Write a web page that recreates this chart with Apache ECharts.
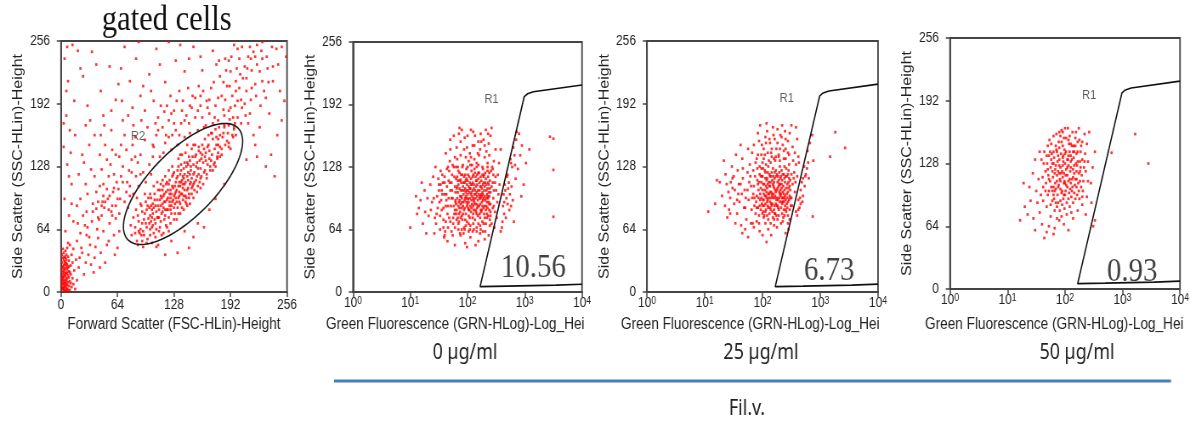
<!DOCTYPE html>
<html><head><meta charset="utf-8">
<script src="https://cdn.jsdelivr.net/npm/echarts@6/dist/echarts.min.js"></script>
<style>
html,body{margin:0;padding:0;background:#fff;overflow:hidden;width:1202px;height:425px;}
#c{width:1414px;height:425px;transform:scaleX(0.85);transform-origin:0 0;}
</style></head><body><div id="c"></div>
<script>
// ---------------- data ----------------
// Panel 1: Forward scatter (x, linear 0-256) vs Side scatter (y, linear 0-256)
const fscSscCells = [
[2,3],[4,1],[3,7],[6,4],[1,12],[5,9],[8,2],[2,18],[7,14],[4,22],[3,27],[9,6],[6,19],[1,5],[10,11],[5,30],[3,15],[8,25],[2,35],[6,8],[4,12],[7,3],[11,18],[1,24],[5,16],[9,21],[3,40],[6,33],[12,5],[2,9],[7,28],[4,5],[10,2],[5,24],[1,30],[8,10],[3,20],[13,14],[6,38],[2,44],[9,32],[4,17],[11,27],[7,45],[14,8],[5,2],[3,11],[1,16],[8,36],[6,13],[15,22],[12,38],[2,26],[10,48],[4,31],[7,20],[16,3],[3,4],[9,15],[5,42],[13,30],[1,38],[6,26],[11,9],[4,36],[2,13],[8,50],[14,44],[18,12],[17,33],
[3,2],[5,6],[2,21],[4,28],[6,11],[7,23],[3,33],[5,19],[1,8],[8,17],[2,4],[6,1],[4,9],[9,26],[3,24],[7,7],[5,35],[2,15],[10,20],[6,29],
[20,25],[24,40],[18,52],[28,30],[33,48],[22,60],[38,35],[30,66],[26,18],[42,55],[35,72],[45,40],[19,70],[48,62],[40,85],[52,48],[29,82],[55,70],[37,20],[60,58],[23,45],[46,78],[58,88],[32,56],[50,30],[27,68],[62,75],[44,25],[36,90],[54,52],[21,35],[64,45],[41,64],[31,38],[57,82],[47,92],[25,78],[66,62],[34,28],[53,95],[39,46],[61,38],[43,74],[29,58],[49,86],
[5,62],[9,78],[4,95],[12,110],[7,130],[3,148],[10,165],[6,180],[15,195],[8,215],[4,238],[13,252],[18,88],[11,142],[20,120],[6,205],[16,160],[22,228],[9,118],[14,72],[3,172],[19,246],[24,140],[12,90],[7,250],
[80,58],[84,66],[86,52],[88,72],[82,76],[89,60],[79,68],[85,84],[87,48],[90,64],
[92,70],[94,58],[95,80],[97,66],[91,88],[99,75],[93,62],[96,92],[98,54],[100,70],[94,74],[97,84],[92,52],[100,86],
[101,78],[103,66],[104,90],[106,74],[102,96],[108,82],[105,60],[107,70],[109,94],[103,84],[110,76],[101,58],[106,100],[108,64],[104,80],[110,88],[102,72],[107,88],
[111,84],[113,72],[114,96],[116,86],[112,104],[118,78],[115,90],[117,100],[119,68],[113,88],[120,94],[111,76],[116,108],[118,92],[114,80],[120,84],[112,94],[117,74],[119,102],[115,82],
[121,96],[123,88],[124,104],[126,92],[122,110],[128,98],[125,80],[127,106],[129,90],[123,100],[130,112],[121,84],[126,118],[128,86],[124,96],[130,102],[122,76],[127,94],[129,108],[125,100],[123,92],
[131,104],[133,96],[134,112],[136,100],[132,118],[138,106],[135,90],[137,114],[139,98],[133,108],[140,120],[131,92],[136,124],[138,110],[134,102],[140,104],[132,86],[137,100],[139,116],[135,108],[133,128],
[141,112],[143,104],[144,122],[146,110],[142,128],[148,116],[145,100],[147,124],[149,108],[143,118],[150,130],[141,98],[146,134],[148,106],[144,114],[150,120],[142,96],[147,112],
[151,122],[153,114],[154,132],[156,120],[152,138],[158,126],[155,108],[157,134],[159,118],[153,128],[160,140],[151,112],[156,144],[158,116],
[161,132],[163,124],[164,142],[166,130],[162,146],[168,136],[165,120],[167,150],[169,128],[163,138],
[171,140],[174,132],[176,150],[178,142],[172,156],[180,148],[175,128],[183,158],[177,136],[182,146],
[186,150],[189,162],[192,146],[195,158],[190,170],[198,160],
[87,78],[90,90],[93,46],[95,100],[88,62],[97,50],[99,96],[91,58],[96,70],[84,60],[92,82],[98,88],
[101,100],[103,50],[105,108],[107,56],[109,112],[111,62],[113,110],[102,88],[104,68],[106,94],[108,46],[110,104],[112,66],[114,58],[115,114],[101,64],[105,86],[109,76],[113,98],[103,76],
[116,60],[118,118],[120,66],[122,124],[124,70],[126,128],[128,74],[116,98],[119,110],[121,104],[123,114],[125,88],[127,120],[129,80],[117,92],[130,96],[118,84],[122,62],[126,108],[128,122],[124,84],[120,112],[129,100],[115,104],
[131,74],[133,136],[135,80],[137,140],[139,84],[141,142],[143,88],[145,138],[132,124],[134,92],[136,130],[138,94],[140,132],[142,90],[144,130],[131,116],[133,80],[135,120],[137,86],[139,126],[141,92],[143,132],[145,96],[136,112],[140,110],[134,98],[138,118],[144,106],
[146,90],[148,146],[150,96],[152,150],[154,102],[156,148],[158,106],[160,150],[147,128],[149,138],[151,104],[153,140],[155,126],[157,112],[159,136],[146,120],[150,110],[154,118],[158,142],[148,100],
[161,110],[163,156],[165,116],[167,160],[169,124],[171,162],[173,130],[175,166],[177,138],[179,168],[162,122],[166,148],[170,134],[174,146],[178,156],[164,134],[168,144],[172,124],[176,158],[180,138],
[182,140],[185,170],[188,154],[191,176],[194,160],[197,172],[184,162],[190,148],[196,166],[200,178],
[110,48],[125,52],[140,62],[155,70],[168,84],[150,56],[132,40],[175,95],[118,38],[162,66],[185,110],[145,45],
[42,92],[48,110],[55,98],[60,120],[52,135],[65,105],[70,128],[58,145],[75,112],[68,150],[80,135],[62,88],[85,118],[72,160],[90,140],[78,98],[46,125],[95,155],[82,170],[57,165],[88,108],[66,138],[100,130],[74,145],[93,122],[50,150],[105,148],[84,158],[63,112],[98,168],[77,124],[44,140],[108,160],[87,132],[54,118],[96,112],[70,175],[102,120],[59,102],[81,150],[91,175],[67,95],[49,170],[104,138],[76,180],
[22,95],[28,110],[34,125],[40,102],[46,88],[52,105],[58,78],[64,95],[70,112],[76,86],[82,100],[26,132],[32,150],[38,118],[44,108],[50,92],[56,130],[62,140],[68,118],[74,102],[80,122],[86,96],[30,100],[36,82],[42,76],[48,98],[54,84],[60,106],[66,80],[72,92],[78,108],[84,138],[90,120],[33,175],[45,160],[57,185],[69,195],[81,188],[93,210],[105,195],
[112,138],[118,152],[125,145],[130,165],[122,175],[135,140],[140,158],[128,185],[145,172],[138,195],[115,168],[150,150],[148,188],[132,150],[155,165],[142,180],[120,190],[160,178],[126,160],[152,198],[136,172],[117,184],[146,162],[158,190],[124,200],[164,170],[134,205],[110,178],[144,208],[156,210],
[104,150],[110,165],[116,142],[122,158],[128,172],[134,160],[140,175],[146,190],[152,178],[158,200],[107,172],[113,190],[119,160],[125,182],[131,195],[137,185],[143,150],[149,200],[155,185],[161,205],
[170,162],[178,175],[185,168],[190,185],[175,190],[195,178],[200,195],[182,200],[188,210],[205,188],[210,205],[198,215],[215,196],[192,225],[180,220],[208,230],[220,212],[186,238],[200,248],[225,225],[212,240],[170,208],[196,168],[176,232],[230,205],[218,245],[204,172],[165,195],[190,152],[228,238],[240,230],[235,214],[214,182],[206,218],[172,246],[222,252],[184,186],[160,226],[244,248],[194,200],[226,190],[202,238],[178,150],[216,226],[168,182],
[162,168],[168,196],[174,178],[180,160],[186,196],[192,188],[198,205],[204,196],[210,218],[216,208],[222,232],[228,215],[234,228],[187,226],[193,240],[199,228],[205,250],[211,228],[173,214],[179,236],[185,180],[191,210],[197,190],[203,222],[209,180],[215,238],[221,200],[227,246],[233,240],[239,250],[166,188],[172,172],[178,198],[184,214],[190,236],[196,252],[202,208],[208,192],[214,250],[220,240],
[30,190],[45,205],[62,196],[78,215],[90,200],[55,230],[100,222],[118,214],[35,245],[72,250],[130,236],[108,248],[85,238],[140,225],[150,250],[25,220],[65,212],[122,255],[95,185],[48,180],[135,252],[112,232],[158,240],[40,232],[88,255],[145,238],[68,228],[28,170],[38,160],[102,205],
[210,135],[220,150],[232,128],[245,160],[238,140],[250,175],[225,168],[242,118],[253,195],[236,182],[248,205],[212,172],[240,215],[222,138],[246,232],[232,198],[255,240],[228,255],[250,250],[218,160]
];

// Panels 2-4: x = log10(Green fluorescence), y = Side scatter (0-256)
const dose0Cells = [
[1.85,72],[1.92,88],[2.01,95],[2.10,80],[2.18,104],[2.25,92],[2.33,110],[1.88,115],[1.97,102],[2.05,68],[2.14,118],[2.22,76],[2.30,98],[2.38,84],[1.82,96],[1.90,78],[1.99,110],[2.07,124],[2.16,90],[2.24,114],[2.32,70],[2.40,102],[1.86,106],[1.94,66],[2.03,84],[2.12,100],[2.20,122],[2.28,86],[2.36,118],[1.81,84],[1.89,98],[1.96,120],[2.04,106],[2.13,74],[2.21,96],[2.29,104],[2.37,92],[1.84,110],[1.93,92],[2.02,78],[2.09,112],[2.17,86],[2.26,120],[2.34,80],[1.87,82],[1.95,112],[2.00,100],[2.08,90],[2.15,108],[2.23,84],[2.31,122],[2.39,74],[1.83,102],[1.91,74],[1.98,92],[2.06,116],[2.11,94],[2.19,70],[2.27,100],[2.35,106],[1.80,90],[1.88,104],[1.97,80],[2.04,96],[2.13,122],[2.20,88],[2.28,112],[2.36,96],[1.86,94],[1.94,118],[2.02,108],[2.10,88],[2.18,78],[2.25,106],[2.33,88],[1.90,86],[1.99,72],[2.07,102],[2.16,114],[2.24,82],[2.31,94],[2.39,114],[1.82,118],[1.93,100],[2.01,120],[2.09,76],[2.17,98],[2.26,72],[2.34,100],[1.85,80],[1.96,96],[2.05,88],[2.12,110],[2.21,104],[2.29,80],[2.37,110],[1.89,112],[1.98,104],[2.06,82],[2.14,96],[2.23,118],[2.30,108],[2.38,98],[1.84,88],[1.92,108],[2.00,114],[2.08,98],[2.15,82],[2.22,90],[2.32,116],[1.87,98],[1.95,86],[2.03,102],[2.11,106],[2.19,116],[2.27,94],[2.35,86],[1.81,106],[1.91,120],[1.99,88],[2.07,94],[2.16,102],[2.24,100],[2.33,96],[1.88,90],[1.97,114],[2.04,76],[2.13,90],[2.21,112],[2.28,118],[2.36,78],[1.83,76],[1.94,104],[2.02,92],[2.10,120],[2.18,94],[2.26,88],[2.40,90],[1.86,122],[1.96,74],[2.06,110],[2.14,84],[2.22,108],[2.30,76],[2.38,122],[1.90,96],[2.01,86],[2.09,104],[2.17,110],[2.25,98],
[1.78,66],[1.84,124],[1.87,60],[1.91,128],[1.95,64],[1.98,126],[2.02,70],[2.05,130],[2.09,62],[2.12,126],[2.16,66],[2.19,130],[2.23,64],[2.27,126],[2.31,62],[2.35,124],[2.39,68],[1.76,88],[1.79,102],[1.81,74],[1.83,114],[1.86,86],[1.89,120],[1.92,80],[1.95,94],[1.98,116],[2.01,104],[2.04,112],[2.07,86],[2.10,96],[2.13,104],[2.16,80],[2.19,122],[2.22,98],[2.25,84],[2.28,96],[2.31,112],[2.34,92],[2.37,102],[2.40,82],[2.42,108],[1.77,118],[1.80,80],[1.85,92],[1.88,76],[1.91,104],[1.94,84],[1.97,98],[2.00,90],[2.03,118],[2.06,100],[2.09,118],[2.12,92],[2.15,114],[2.18,88],[2.21,80],[2.24,108],[2.27,110],[2.30,88],[2.33,104],[2.36,112],[2.39,106],[1.79,94],[1.82,108],[1.86,114],[1.90,92],[1.93,112],[1.96,106],[1.99,96],[2.02,84],[2.05,106],[2.08,110],[2.11,84],[2.14,100],[2.17,120],[2.20,100],[2.23,96],[2.26,102],[2.29,120],[2.32,84],[2.35,98],[2.38,90],[1.75,76],[1.73,104],[1.71,88],[1.69,112],[1.67,96],[1.65,80],[1.64,108],[1.62,72],[1.60,100],[1.58,86],[1.56,120],[1.54,94],[1.52,78],[1.50,110],
[1.70,146],[1.76,160],[1.82,136],[1.88,154],[1.94,146],[2.00,160],[2.06,138],[2.12,150],[2.18,142],[2.24,154],[2.30,150],[2.36,162],[1.86,168],[2.10,164],[2.32,166],[2.00,128],[2.16,132],[1.80,128],[2.22,146],[2.38,140],
[1.55,104],[1.60,112],[1.66,88],[1.70,72],[1.74,96],[1.78,84],[1.63,94],[1.58,66],[1.46,80],[1.41,96],[1.53,110],[1.68,124],[1.72,112],[1.80,116],[1.84,70],[1.90,64],[1.97,68],[2.04,64],[2.10,70],[2.16,62],[2.22,68],[2.28,70],[2.34,76],[2.40,78],[2.44,86],[2.46,104],[2.48,112],[2.45,120],[2.41,124],[2.35,128],
[1.32,78],[1.38,92],[1.45,70],[1.50,104],[1.55,84],[1.60,118],[1.66,66],[1.72,96],[1.76,128],[1.35,110],[1.42,60],[1.48,86],[1.53,124],[1.58,74],[1.63,100],[1.69,134],[1.74,58],[1.78,108],[1.30,96],[1.40,118],[1.47,98],[1.52,64],[1.57,112],[1.62,88],[1.68,76],[1.73,120],[1.77,80],[1.36,84],[1.44,128],[1.51,92],[1.59,56],[1.64,126],[1.70,104],[1.75,70],[1.79,92],[1.43,76],[1.56,100],[1.67,114],[1.61,62],[1.49,116],
[1.65,52],[1.78,48],[1.88,58],[1.96,50],[2.05,56],[2.14,48],[2.22,60],[2.30,54],[1.72,62],[1.84,64],[1.93,60],[2.02,62],[2.11,64],[2.19,52],[1.60,58],[2.27,62],[1.99,46],[2.37,58],
[1.62,142],[1.70,156],[1.78,138],[1.85,162],[1.92,130],[1.99,148],[2.06,166],[2.12,136],[2.19,154],[2.26,128],[2.33,144],[2.40,160],[2.46,134],[1.74,130],[1.81,148],[1.88,140],[1.95,158],[2.02,134],[2.09,150],[2.16,128],[2.23,162],[2.30,138],[2.37,152],[2.44,126],[1.66,128],[1.90,166],[2.04,142],[2.20,140],[2.35,132],[2.49,146],[1.97,138],[2.13,160],[2.28,156],[1.83,128],[2.42,168],[2.08,130],
[2.42,70],[2.45,96],[2.48,82],[2.44,112],[2.50,104],[2.47,66],[2.53,120],[2.46,88],[2.52,92],[2.55,132],[2.43,128],[2.51,76],[2.56,110],[2.49,118],[2.58,146],[2.54,100],
[2.62,88],[2.66,104],[2.70,120],[2.61,72],[2.75,136],[2.68,96],[2.80,148],[2.64,80],[2.72,112],[2.78,128],[2.85,156],[2.60,66],[2.74,100],[2.69,118],[2.82,140],[2.90,162],[2.70,90],[2.63,100],[2.77,108],[2.95,150],[2.88,126],[2.58,62],[2.67,76],[3.02,132],[2.84,116],[2.73,84],[2.92,140],[2.79,94],[2.98,110],[2.86,164],[2.65,110],[3.08,146],[2.76,132],[2.81,72],[2.94,98],[2.64,92],[2.71,106],[2.83,130],[2.76,88],
[3.44,159],[3.50,157],[3.50,125],[3.50,77],
[1.00,66],[1.12,80],[1.18,94],[1.22,70],[1.25,104],[1.15,86],[1.28,60],[1.20,112],[1.26,82],[1.10,98]
];

const dose25Cells = [
[1.92,86],[2.00,104],[2.08,92],[2.15,118],[2.22,80],[2.30,110],[2.38,96],[2.45,124],[1.95,120],[2.03,78],[2.11,100],[2.18,126],[2.26,88],[2.34,114],[2.41,82],[2.48,104],[1.90,98],[1.98,112],[2.06,84],[2.13,108],[2.21,96],[2.29,122],[2.36,76],[2.44,92],[1.94,78],[2.02,94],[2.10,128],[2.17,90],[2.25,104],[2.32,86],[2.40,118],[2.47,98],[1.97,106],[2.05,116],[2.12,80],[2.20,112],[2.27,94],[2.35,102],[2.43,110],[1.91,114],[1.99,90],[2.07,102],[2.14,84],[2.23,124],[2.31,98],[2.39,88],[2.46,116],[1.96,94],[2.04,124],[2.09,110],[2.16,100],[2.24,78],[2.33,106],[2.42,100],[2.49,88],[1.93,104],[2.01,82],[2.11,96],[2.19,108],[2.28,84],[2.37,120],[2.44,78],[1.98,126],[2.06,98],[2.13,92],[2.21,116],[2.29,102],[2.36,92],[2.45,106],[1.95,88],[2.03,110],[2.10,86],[2.18,96],[2.26,112],[2.34,80],[2.41,126],[2.00,118],[2.08,106],[2.16,122],[2.23,90],[2.31,116],[2.38,104],[2.47,84],[1.92,110],[2.02,100],[2.14,112],[2.22,104],[2.30,92],[2.39,112],[2.05,90],[2.12,120],[2.20,84],[2.27,118],[2.35,96],[2.43,86],[1.97,84],[2.07,114],[2.17,82],[2.25,96],[2.33,124],[2.40,94],[2.48,114],[2.04,104],[2.15,102],[2.24,118],[2.32,100],[2.09,88],[2.19,100],[2.28,108],[2.37,84],[2.01,126],[2.13,86],[2.21,88],[2.30,128],[2.44,102],
[2.02,76],[2.06,130],[2.10,74],[2.14,132],[2.18,76],[2.22,134],[2.26,74],[2.30,134],[2.34,90],[2.38,128],[2.42,118],[2.46,94],[1.96,100],[1.99,118],[2.03,88],[2.07,96],[2.11,112],[2.15,90],[2.19,118],[2.23,102],[2.27,86],[2.31,104],[2.35,120],[2.39,98],[2.43,96],[1.98,96],[2.01,110],[2.05,82],[2.09,122],[2.13,102],[2.17,114],[2.21,80],[2.25,120],[2.29,96],[2.33,110],[2.37,92],[2.41,106],[2.45,112],[2.00,88],[2.04,98],[2.08,116],[2.12,108],[2.16,88],[2.20,106],[2.24,94],[2.28,114],[2.32,118],[2.36,108],[2.40,84],[2.44,120],[1.94,112],[2.06,108],[2.10,100],[2.14,96],[2.18,110],[2.22,98],[2.26,106],[2.30,100],[2.34,96],[2.38,116],[1.89,92],[1.93,96],[1.97,118],[2.01,94],[2.05,122],[2.09,94],[2.13,118],[2.17,98],[2.21,122],[2.25,88],[2.29,110],[2.33,92],[2.37,100],[2.42,90],[2.47,108],[1.85,108],[1.88,80],[1.91,126],[2.48,96],[2.50,120],[2.46,130],[2.40,136],[2.28,140],[2.16,138],[2.04,140],[1.92,140],[1.84,124],[1.86,96],
[1.95,128],[2.02,136],[2.09,142],[2.16,146],[2.23,138],[2.30,146],[2.37,144],[2.44,142],[2.12,156],[2.26,152],[1.99,150],[2.40,156],[2.06,152],[2.19,160],[2.33,158],
[1.90,86],[1.94,70],[2.00,80],[2.08,78],[2.14,70],[2.20,68],[2.28,78],[2.32,70],[2.38,78],[2.44,70],[1.82,96],[1.79,118],[1.74,104],[1.70,86],[1.66,126],[1.62,110],[1.56,94],[1.52,104],[1.48,116],[1.44,80],
[1.30,98],[1.36,120],[1.42,84],[1.48,106],[1.54,140],[1.60,92],[1.66,116],[1.72,74],[1.78,130],[1.84,100],[1.33,134],[1.39,76],[1.45,112],[1.51,90],[1.57,124],[1.63,68],[1.69,104],[1.75,146],[1.81,84],[1.87,118],[1.35,88],[1.41,102],[1.47,128],[1.53,70],[1.59,110],[1.65,136],[1.71,96],[1.77,112],[1.83,70],[1.88,132],[1.44,96],[1.56,80],[1.62,150],[1.68,86],[1.74,122],[1.80,108],[1.86,88],[1.50,118],[1.38,110],[1.64,100],[1.76,94],[1.70,64],[1.82,142],[1.58,100],[1.26,112],
[1.06,82],[1.21,114],[1.18,90],
[1.85,150],[1.92,162],[1.98,140],[2.05,158],[2.11,134],[2.18,168],[2.24,146],[2.31,160],[2.37,136],[2.44,154],[2.50,170],[2.56,142],[1.90,136],[1.96,170],[2.02,146],[2.08,164],[2.15,142],[2.21,156],[2.28,138],[2.34,170],[2.40,146],[2.47,162],[2.53,134],[2.60,156],[2.00,132],[2.13,152],[2.26,166],[2.39,164],[2.52,148],[1.94,154],[2.20,136],[2.46,140],[2.58,168],[2.35,150],[2.07,172],
[1.65,60],[1.75,56],[1.85,66],[1.95,62],[2.05,70],[2.15,58],[2.25,66],[2.35,72],[2.45,64],[1.90,72],[2.00,58],[2.20,74],[2.40,60],[1.80,70],[2.10,64],[2.07,51],
[2.50,96],[2.52,110],[2.55,122],[2.56,102],[2.51,88],[2.58,130],[2.60,118],[2.62,138],[2.47,74],[2.57,112],[2.63,132],[2.54,116],
[2.62,94],[2.68,112],[2.72,128],[2.58,82],[2.66,104],[2.78,144],[2.75,120],[2.64,86],[2.82,152],[2.70,98],[2.86,160],[2.60,78],[2.73,108],[2.88,134],[2.80,116],[2.87,77],[2.69,92],[2.65,96],[2.74,118],[2.62,84],[2.77,126],[2.70,116],[2.66,90],[2.79,132],
[3.26,163],[3.43,147],[3.17,138]
];

const dose50Cells = [
[1.95,120],[2.05,132],[1.88,104],[2.12,146],[1.80,128],[2.20,112],[1.92,90],[2.02,154],[1.74,110],[2.16,98],[1.85,142],[2.26,130],[1.98,108],[2.08,84],[1.70,96],[2.30,150],[1.90,126],[2.00,96],[1.82,80],[2.14,122],[2.22,140],[1.76,148],[1.96,160],[2.06,110],[1.86,116],[2.18,92],[1.66,120],[2.28,104],[1.94,74],[2.10,136],[1.78,100],[2.04,124],[1.84,88],[2.24,118],[1.62,104],[1.99,142],[2.13,160],[1.72,136],[2.33,124],[1.91,112],[2.09,102],[1.80,156],[2.19,128],[1.68,84],[2.01,116],[1.87,96],[2.25,152],[1.97,130],[2.11,78],[1.75,124],[2.07,148],[1.93,138],[2.35,138],[1.83,108],[2.17,106],[1.64,140],[2.03,88],[1.89,150],[2.21,96],[1.71,116],[2.29,116],[1.95,100],[2.15,134],[1.81,92],[2.05,164],[1.58,96],[1.99,82],[2.23,108],[1.77,138],[2.09,120],[1.87,130],[2.31,100],[1.69,128],[2.02,140],[1.93,118],[2.12,112],[1.79,114],[2.38,148],[1.85,158],[2.18,154],[1.97,92],[2.07,98],[1.73,152],[2.27,140],[1.91,80],[2.14,88],[1.61,114],[2.00,128],[1.83,122],[2.21,126],[1.96,146],[2.10,130],[1.75,86],[2.34,158],[1.89,106],[2.04,104],[1.67,108],[2.16,118],[1.94,162],[2.25,92],[1.81,134],[1.99,110],[2.40,130],[2.08,140],[1.86,84],[1.54,112],[2.20,138],[1.90,144],[2.32,110],[1.70,146],[2.03,76],[1.78,120],[2.13,104],[1.92,156],[2.24,164],[1.63,128],[2.06,126],[1.84,102],[2.36,120],[1.97,136],[2.15,146],[1.72,100],[2.01,100],[1.88,136],[2.27,124],[2.11,94],[1.59,132],[1.95,86],[2.19,160],[1.80,104],
[1.98,118],[2.02,106],[1.90,132],[2.10,124],[1.86,110],[2.16,140],[1.94,98],[2.06,152],[1.78,128],[2.20,120],[1.84,146],[2.26,110],[1.92,124],[2.00,138],[1.76,104],[2.12,100],[1.88,88],[2.22,130],[1.96,114],[2.08,112],[1.82,118],[2.18,146],[1.92,102],[2.04,132],[1.74,140],[2.30,132],[1.98,154],[2.14,114],[1.80,96],[2.24,100],[1.90,118],[2.06,92],[1.70,122],[2.02,122],[1.86,140],[2.28,146],[1.96,126],[2.10,148],[1.66,100],[2.18,112],[1.84,126],[2.00,108],[1.94,150],[2.12,132],[1.78,90],[2.34,130],[1.88,120],[2.08,156],[1.72,112],[2.20,104],[1.98,96],[2.16,126],[1.82,100],[2.04,116],[1.90,160],[2.26,120],[1.76,132],[2.00,164],[1.86,72],[2.14,140],[1.62,90],[2.40,110],[1.92,110],[2.06,136],[1.80,140],[2.22,150],[1.96,134],[2.10,108],[1.68,136],[2.30,94],
[1.45,72],[1.52,88],[1.60,66],[1.68,58],[1.75,74],[1.82,62],[1.90,70],[1.98,66],[2.06,60],[2.14,72],[1.40,90],[1.48,60],[1.56,78],[1.64,52],[1.72,64],[1.80,56],[1.50,100],[1.38,104],[1.30,84],[1.22,70],[1.35,76],[1.44,118],[1.56,140],[1.48,132],[2.22,80],[2.30,86],[2.38,94],[2.45,108],[2.48,124],[2.52,140],[2.42,160],[2.46,88],[2.52,70],[1.28,108],[2.36,76],
[2.81,139],[3.22,158],[3.45,128],[2.49,64]
];

const linearTicks = [0, 64, 128, 192, 256];
const logDecades = [0, 1, 2, 3, 4];
// R1 gate outline: [log10 GRN, SSC]
const gateR1 = [[4,8],[3.55,7],[2.7,6],[2.22,5.5],[2.99,200],[3.05,203],[3.15,205],[4,212]];
// R2 gate ellipse: centre, half major axis vector, half minor axis vector (data units)
const gateR2Centre = [138.2, 110.2];
const gateR2Major = [62.3, 57.1];
const gateR2Minor = [-26.1, 23.5];
const r1Percent = ['10.56', '6.73', '0.93'];
const r1PercentAt = [[3.15, 25], [3.155, 21.6], [3.17, 17.6]];
const r1LabelAt = [2.42, 197];
const r2LabelAt = [87.2, 158.2];
const doseLabels = ['0 µg/ml', '25 µg/ml', '50 µg/ml'];
const groupLabel = 'Fil.v.';

// ---------------- chart ----------------
const SX = 0.85; // the original figure is squeezed horizontally
const sans = '"Liberation Sans", Arial, sans-serif';
const serif = '"Liberation Serif", "Times New Roman", serif';
const ink = '#222';
const axisCol = '#444';

const gridBoxes = [
  {left: 61/SX, top: 41, width: 226/SX, height: 251},
  {left: 353/SX, top: 42, width: 229/SX, height: 250},
  {left: 647/SX, top: 41, width: 231/SX, height: 251},
  {left: 950/SX, top: 38, width: 230/SX, height: 251}
];
const grid = gridBoxes.map(g => Object.assign({show: true, borderColor: axisCol, borderWidth: 1.8, backgroundColor: 'transparent'}, g));

const axisLine = {show: true, onZero: false, lineStyle: {color: axisCol, width: 1.8}};
const axisTick = {show: true, length: 5, inside: false, lineStyle: {color: axisCol, width: 1.5}};

const yAxis = grid.map((g, i) => ({
  gridIndex: i, type: 'value', min: linearTicks[0], max: linearTicks[linearTicks.length-1], interval: 64,
  name: 'Side Scatter (SSC-HLin)-Height', nameLocation: 'middle', nameGap: 42,
  nameTextStyle: {fontSize: 16, color: ink, fontFamily: sans},
  axisLine, axisTick,
  axisLabel: {fontSize: 14, color: ink, fontFamily: sans, margin: 13},
  splitLine: {show: false}
}));

const xAxis = [{
  gridIndex: 0, type: 'value', min: linearTicks[0], max: linearTicks[linearTicks.length-1], interval: 64,
  name: 'Forward Scatter (FSC-HLin)-Height', nameLocation: 'middle', nameGap: 25,
  nameTextStyle: {fontSize: 16, color: ink, fontFamily: sans},
  axisLine, axisTick,
  axisLabel: {fontSize: 14, color: ink, fontFamily: sans, margin: 6},
  splitLine: {show: false}
}];
for (let i = 1; i < 4; i++) {
  xAxis.push({
    gridIndex: i, type: 'log', logBase: 10,
    min: Math.pow(10, logDecades[0]), max: Math.pow(10, logDecades[logDecades.length-1]),
    axisLine, axisTick,
    axisLabel: {
      margin: 4,
      formatter: v => '{a|10}{b|' + Math.round(Math.log10(v)) + '}',
      rich: {
        a: {fontSize: 14, color: ink, fontFamily: sans, lineHeight: 14, verticalAlign: 'bottom'},
        b: {fontSize: 10, color: ink, fontFamily: sans, lineHeight: 14, verticalAlign: 'top'}
      }
    },
    splitLine: {show: false}, minorTick: {show: false}
  });
}

const dotStyle = {type: 'scatter', symbol: 'rect', symbolSize: 2.7, itemStyle: {color: '#ff0000'}, silent: true, animation: false};
const toLog = arr => arr.map(p => [Math.pow(10, p[0]), p[1]]);

const series = [];
series.push(Object.assign({xAxisIndex: 0, yAxisIndex: 0, data: fscSscCells}, dotStyle));
[dose0Cells, dose25Cells, dose50Cells].forEach((cells, k) => {
  series.push(Object.assign({xAxisIndex: k+1, yAxisIndex: k+1, data: toLog(cells)}, dotStyle));
});

// R2 ellipse gate
const ell = [];
for (let k = 0; k <= 120; k++) {
  const t = 2*Math.PI*k/120;
  ell.push([gateR2Centre[0] + gateR2Major[0]*Math.cos(t) + gateR2Minor[0]*Math.sin(t),
            gateR2Centre[1] + gateR2Major[1]*Math.cos(t) + gateR2Minor[1]*Math.sin(t)]);
}
series.push({type: 'line', xAxisIndex: 0, yAxisIndex: 0, data: ell, showSymbol: false, symbol: 'none',
  lineStyle: {color: '#1a1a1a', width: 1.6}, silent: true, animation: false, z: 5});

const labelSeries = (xi, pt, text, font) => ({
  type: 'scatter', xAxisIndex: xi, yAxisIndex: xi, data: [pt], symbolSize: 1,
  itemStyle: {color: 'rgba(0,0,0,0)'}, silent: true, animation: false, z: 6,
  label: Object.assign({show: true, position: 'inside', formatter: () => text}, font)
});

series.push(labelSeries(0, r2LabelAt, 'R2', {fontSize: 13, color: '#333', fontFamily: sans}));

for (let k = 0; k < 3; k++) {
  series.push({type: 'line', xAxisIndex: k+1, yAxisIndex: k+1, data: toLog(gateR1), showSymbol: false, symbol: 'none',
    lineStyle: {color: '#111', width: 1.6}, silent: true, animation: false, z: 5});
  series.push(labelSeries(k+1, [Math.pow(10, r1LabelAt[0]), r1LabelAt[1]], 'R1', {fontSize: 13, color: '#333', fontFamily: sans}));
  series.push(labelSeries(k+1, [Math.pow(10, r1PercentAt[k][0]), r1PercentAt[k][1]], r1Percent[k], {fontSize: 34, color: '#111', fontFamily: serif}));
}

const doseCentres = [465, 761, 1077];
const graphic = [
  {type: 'text', x: 166.7/SX, y: 21, style: {text: 'gated cells', font: '36px "Liberation Serif", serif', fill: '#111', textAlign: 'center', textVerticalAlign: 'middle'}},
  {type: 'text', x: 326/SX, y: 325, style: {text: 'Green Fluorescence (GRN-HLog)-Log_Height', font: '16px "Liberation Sans", Arial', fill: ink, textVerticalAlign: 'middle', width: 266/SX, overflow: 'truncate', ellipsis: ''}},
  {type: 'text', x: 621/SX, y: 325, style: {text: 'Green Fluorescence (GRN-HLog)-Log_Height', font: '16px "Liberation Sans", Arial', fill: ink, textVerticalAlign: 'middle', width: 261/SX, overflow: 'truncate', ellipsis: ''}},
  {type: 'text', x: 925/SX, y: 325, style: {text: 'Green Fluorescence (GRN-HLog)-Log_Height', font: '16px "Liberation Sans", Arial', fill: ink, textVerticalAlign: 'middle', width: 267/SX, overflow: 'truncate', ellipsis: ''}},
  {type: 'line', shape: {x1: 334/SX, y1: 381, x2: 1171/SX, y2: 381}, style: {stroke: '#4a7ebb', lineWidth: 3}},
  {type: 'text', x: 747/SX, y: 409, style: {text: groupLabel, font: '21px "Noto Sans", sans-serif', fill: ink, textAlign: 'center', textVerticalAlign: 'middle'}}
];
doseLabels.forEach((t, k) => graphic.push({type: 'text', x: doseCentres[k]/SX, y: 353,
  style: {text: t, font: '21px "Noto Sans", sans-serif', fill: ink, textAlign: 'center', textVerticalAlign: 'middle'}}));

const chart = echarts.init(document.getElementById('c'), null, {renderer: 'canvas'});
chart.setOption({animation: false, backgroundColor: '#fff', grid, xAxis, yAxis, series, graphic});
</script></body></html>
